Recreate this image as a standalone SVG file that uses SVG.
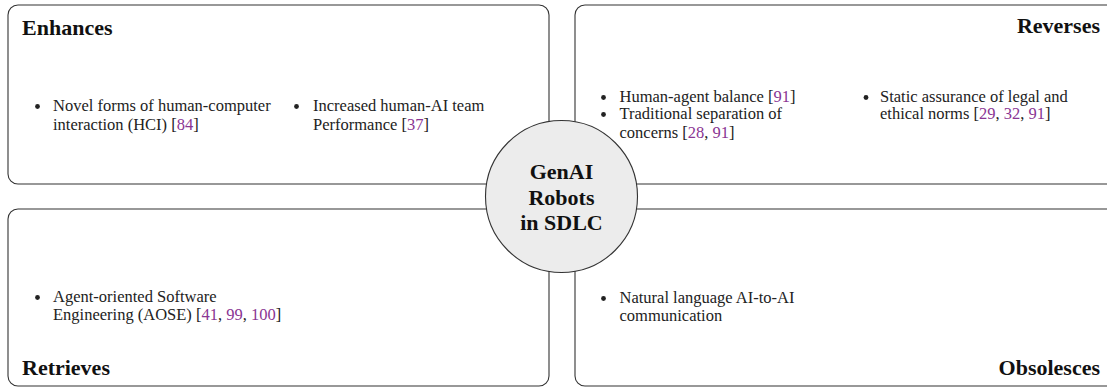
<svg xmlns="http://www.w3.org/2000/svg" width="1107" height="387" viewBox="0 0 1107 387">
<style>
.box{fill:#fff;stroke:#333;stroke-width:1.1}
.hub{fill:#ececec;stroke:#333;stroke-width:1.1}
.t{font-family:"Liberation Serif","Times New Roman",serif;font-size:16.5px;fill:#222}
.h{font-family:"Liberation Serif","Times New Roman",serif;font-size:22px;font-weight:bold;fill:#111}
.c{fill:#8a3593}
.b{fill:#222}
</style>
<rect width="1107" height="387" fill="#fff"/>
<g id="enhances">
<rect class="box" x="8" y="5" width="541" height="179" rx="10"/>
<text class="h" x="22" y="35">Enhances</text>
<circle class="b" cx="37.5" cy="106.5" r="2.4"/>
<text class="t" x="53" y="111">Novel forms of human-computer</text>
<text class="t" x="53" y="130">interaction (HCI) [<tspan class="c">84</tspan>]</text>
<circle class="b" cx="296.5" cy="106.5" r="2.4"/>
<text class="t" x="313" y="111">Increased human-AI team</text>
<text class="t" x="313" y="130">Performance [<tspan class="c">37</tspan>]</text>
</g>
<g id="reverses">
<rect class="box" x="575" y="5" width="545" height="179" rx="10"/>
<text class="h" x="1100" y="33" text-anchor="end">Reverses</text>
<circle class="b" cx="603.5" cy="97.5" r="2.4"/>
<text class="t" x="619.5" y="102">Human-agent balance [<tspan class="c">91</tspan>]</text>
<circle class="b" cx="603.5" cy="114.5" r="2.4"/>
<text class="t" x="619.5" y="119">Traditional separation of</text>
<text class="t" x="619.5" y="138">concerns [<tspan class="c">28</tspan>, <tspan class="c">91</tspan>]</text>
<circle class="b" cx="866" cy="97.5" r="2.4"/>
<text class="t" x="880" y="102">Static assurance of legal and</text>
<text class="t" x="880" y="119">ethical norms [<tspan class="c">29</tspan>, <tspan class="c">32</tspan>, <tspan class="c">91</tspan>]</text>
</g>
<g id="retrieves">
<rect class="box" x="8" y="209" width="541" height="177" rx="10"/>
<text class="h" x="22" y="375">Retrieves</text>
<circle class="b" cx="37.5" cy="297.5" r="2.4"/>
<text class="t" x="53" y="302">Agent-oriented Software</text>
<text class="t" x="53" y="320">Engineering (AOSE) [<tspan class="c">41</tspan>, <tspan class="c">99</tspan>, <tspan class="c">100</tspan>]</text>
</g>
<g id="obsolesces">
<rect class="box" x="575" y="209" width="545" height="177" rx="10"/>
<text class="h" x="1100" y="375" text-anchor="end">Obsolesces</text>
<circle class="b" cx="603.5" cy="298.5" r="2.4"/>
<text class="t" x="619.5" y="303">Natural language AI-to-AI</text>
<text class="t" x="619.5" y="321">communication</text>
</g>
<g id="connectors"/>
<g id="hub">
<circle class="hub" cx="561.5" cy="196.5" r="76"/>
<text class="h" x="561.5" y="179" text-anchor="middle">GenAI</text>
<text class="h" x="561.5" y="204.5" text-anchor="middle">Robots</text>
<text class="h" x="561.5" y="230" text-anchor="middle">in SDLC</text>
</g>
</svg>
